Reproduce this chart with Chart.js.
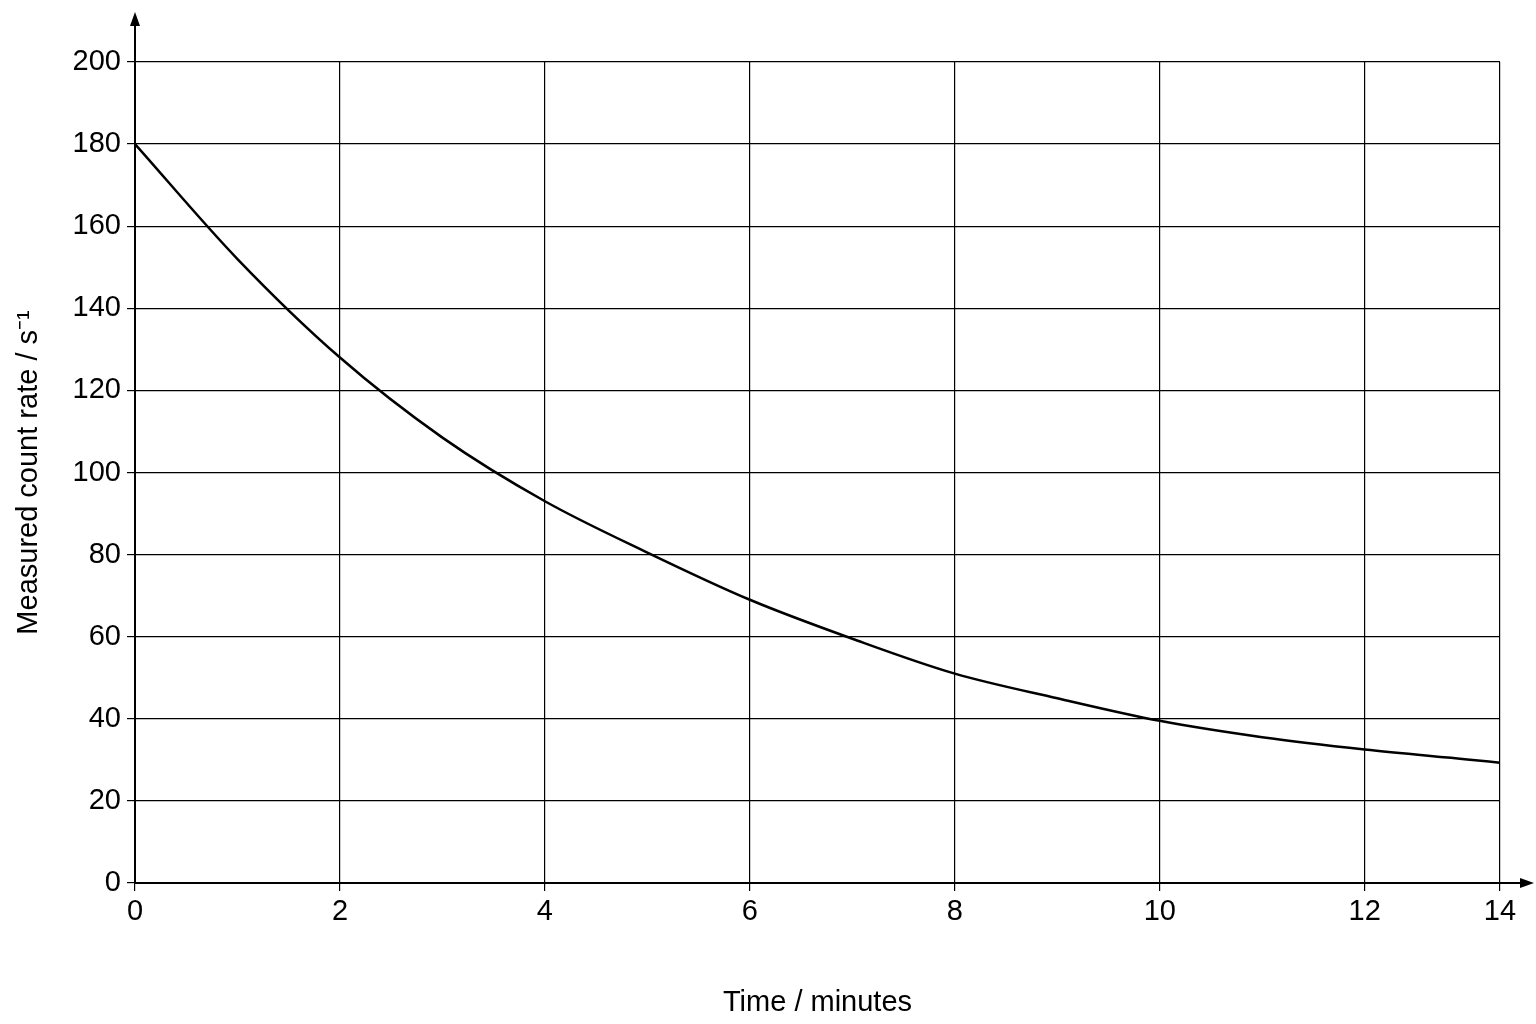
<!DOCTYPE html>
<html><head><meta charset="utf-8">
<script src="https://cdn.jsdelivr.net/npm/chart.js@4"></script>
<style>html,body{margin:0;padding:0;background:#fff}#c{display:block}</style>
</head><body>
<div style="width:1536px;height:1024px"><canvas id="c"></canvas></div>
<script>
const timeMinutes = [0,1,2,3,4,5,6,7,8,9,10,11,12,13,13.32];
const countRate = [180,152,128,108.5,93,80.5,69,59.5,51,45,39.5,35.5,32.5,30.1,29.3];
const xTickValues = [0,2,4,6,8,10,12,13.32];
const xTickLabels = ['0','2','4','6','8','10','12','14'];
const yTicks = [0,20,40,60,80,100,120,140,160,180,200];

const arrows = {
  id:'arrows',
  afterDraw(chart){
    const {ctx} = chart;
    const x0 = chart.scales.x.getPixelForValue(0), y0 = chart.scales.y.getPixelForValue(0);
    ctx.save();
    ctx.strokeStyle='#000'; ctx.fillStyle='#000'; ctx.lineWidth=2;
    ctx.beginPath(); ctx.moveTo(x0,y0); ctx.lineTo(x0,22); ctx.stroke();
    ctx.beginPath(); ctx.moveTo(x0,12); ctx.lineTo(x0-5,26); ctx.lineTo(x0+5,26); ctx.closePath(); ctx.fill();
    ctx.beginPath(); ctx.moveTo(x0,y0); ctx.lineTo(1522,y0); ctx.stroke();
    ctx.beginPath(); ctx.moveTo(1534,y0); ctx.lineTo(1520,y0-5); ctx.lineTo(1520,y0+5); ctx.closePath(); ctx.fill();
    ctx.restore();
  }
};

new Chart(document.getElementById('c'), {
  type:'line',
  data:{datasets:[{data:timeMinutes.map((t,i)=>({x:t,y:countRate[i]})),
    borderColor:'#000', borderWidth:2.5, pointRadius:0, cubicInterpolationMode:'monotone', fill:false}]},
  options:{
    responsive:true, maintainAspectRatio:false, animation:false,
    layout:{padding:{top:62,right:36,left:0,bottom:0}},
    plugins:{legend:{display:false},tooltip:{enabled:false}},
    scales:{
      x:{type:'linear',min:0,max:13.32,
        afterBuildTicks(s){s.ticks=xTickValues.map(v=>({value:v}));},
        afterFit(s){s.height=141;},
        grid:{color:'#000',lineWidth:1.2,tickLength:8},
        border:{display:false},
        ticks:{color:'#000',font:{family:'Liberation Sans',size:29},padding:4,maxRotation:0,
          callback:(v,i)=>xTickLabels[i]},
        title:{display:true,text:'Time / minutes',color:'#000',font:{family:'Liberation Sans',size:29},padding:{top:0}}
      },
      y:{type:'linear',min:0,max:200,
        afterBuildTicks(s){s.ticks=yTicks.map(v=>({value:v}));},
        afterFit(s){s.width=135;},
        grid:{color:'#000',lineWidth:1.2,tickLength:8},
        border:{display:false},
        ticks:{color:'#000',font:{family:'Liberation Sans',size:29},padding:6},
        title:{display:true,text:'Measured count rate / s⁻¹',color:'#000',font:{family:'Liberation Sans',size:29},padding:{top:12,bottom:0}}
      }
    }
  },
  plugins:[arrows]
});
</script>
</body></html>
